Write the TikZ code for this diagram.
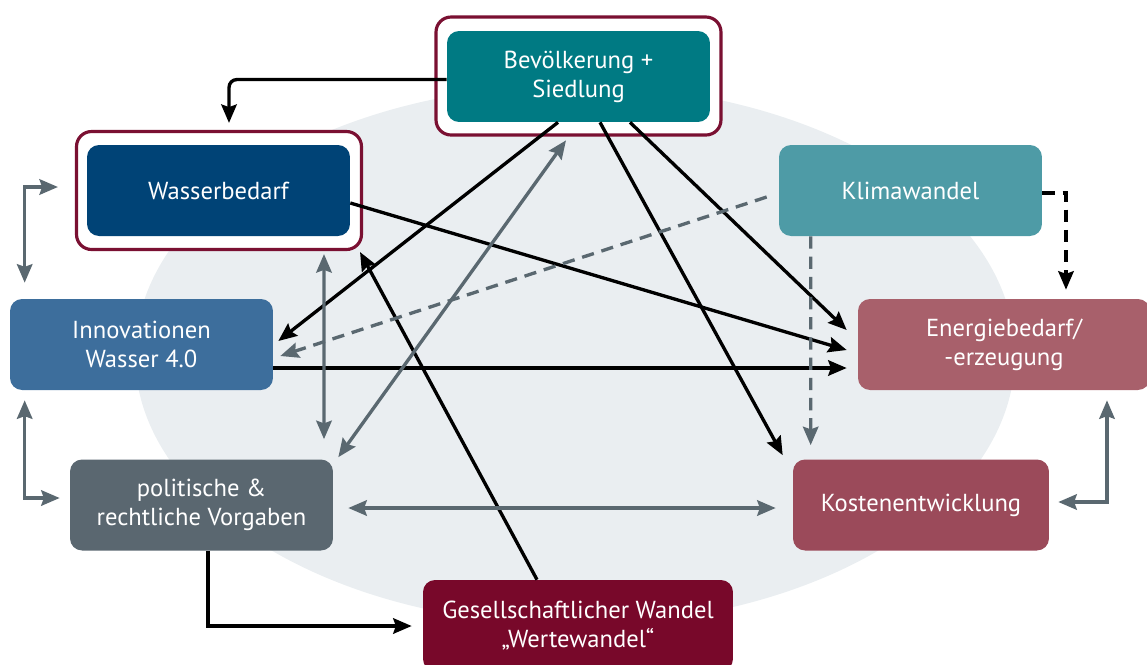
\documentclass[tikz,border=0pt]{standalone}
\usepackage{fontspec}
\setmainfont{PT Sans}
\usetikzlibrary{arrows.meta,calc}
\definecolor{bevcol}{RGB}{0,122,131}
\definecolor{wascol}{RGB}{0,67,118}
\definecolor{klicol}{RGB}{78,155,166}
\definecolor{enecol}{RGB}{168,96,107}
\definecolor{inncol}{RGB}{61,110,156}
\definecolor{polcol}{RGB}{90,103,112}
\definecolor{koscol}{RGB}{155,74,90}
\definecolor{gescol}{RGB}{120,8,42}
\definecolor{ringcol}{RGB}{122,16,50}
\definecolor{linkgray}{RGB}{90,104,112}
\definecolor{bgcol}{RGB}{234,238,241}

\begin{document}
\begin{tikzpicture}[x=0.02cm,y=-0.02cm,
  topic/.style={rounded corners=0.24cm, minimum width=5.26cm, minimum height=1.82cm,
    inner sep=0pt, text=white, align=center, font=\fontsize{14}{16.5}\selectfont},
  ring/.style={draw=ringcol, line width=1.8pt, fill=white, rounded corners=0.3cm,
    minimum width=5.7cm, minimum height=2.36cm},
  tip/.style={-{Stealth[length=10.5pt,width=8.8pt,inset=1.5pt]}},
  tips/.style={{Stealth[length=10.5pt,width=8.8pt,inset=1.5pt]}-{Stealth[length=10.5pt,width=8.8pt,inset=1.5pt]}},
  blk/.style={line width=1.9pt, black},
  gry/.style={line width=1.9pt, linkgray},
  dsh/.style={dash pattern=on 7pt off 4.5pt}]
\useasboundingbox (0,0) rectangle (1147,664);
\fill[bgcol] (575,355) ellipse [x radius=8.8cm, y radius=5.4cm];

\node[ring] (bevring) at (578.5,76) {};
\node[ring] (wasring) at (219,190.5) {};
\node[topic, fill=bevcol] (bev) at (578.5,76.5) {Bevölkerung +\\Siedlung};
\node[topic, fill=wascol] (was) at (218.5,190.5) {Wasserbedarf};
\node[topic, fill=klicol] (kli) at (910.5,190.5) {Klimawandel};
\node[topic, fill=enecol, minimum width=5.84cm] (ene) at (1004,344.5) {Energiebedarf/\\-erzeugung};
\node[topic, fill=inncol] (inn) at (141.5,344.5) {Innovationen\\Wasser 4.0};
\node[topic, fill=polcol] (pol) at (201.5,505) {politische \&\\rechtliche Vorgaben};
\node[topic, fill=koscol, minimum width=5.12cm] (kos) at (921,505) {Kostenentwicklung};
\node[topic, fill=gescol, minimum width=6.2cm] (ges) at (578,625.5) {Gesellschaftlicher Wandel\\„Wertewandel“};

\draw[blk, tip, rounded corners=0.16cm] ($(bev.west)+(0,3)$) -| ($(wasring.north)+(10,-7)$);
\draw[blk, tip] ($(was.east)+(0,12.5)$) -- ($(ene.west)+(-11,5.5)$);
\draw[blk, tip] ($(bev.south)+(51.5,0)$) -- ($(ene.west)+(-11,-14.5)$);
\draw[blk, tip] ($(bev.south)+(21.5,0)$) -- ($(kos.north west)+(-10,-4)$);
\draw[blk, tip] ($(bev.south)+(-20.5,0)$) -- ($(inn.east)+(5,-3.5)$);
\draw[blk, tip] ($(ges.north)+(-41,0)$) -- ($(wasring.south east)+(-3,1)$);
\draw[blk, tip] ($(inn.east)+(0,23.5)$) -- ($(ene.west)+(-11,23.5)$);
\draw[blk, tip] ($(pol.south)+(6.5,0)$) |- ($(ges.west)+(-11,0.5)$);
\draw[blk, tip, dsh] ($(kli.east)+(0,2.5)$) -| ($(ene.north)+(62,-9)$);

\draw[gry, tips] ($(pol.north east)+(5,-2)$) -- ($(bev.south)+(-12.5,18)$);
\draw[gry, tips] ($(wasring.south)+(105,3)$) -- ($(pol.north)+(122.5,-20)$);
\draw[gry, tips] ($(pol.east)+(15,3)$) -- ($(kos.west)+(-17,3)$);
\draw[gry, tips] ($(ene.south)+(103,10)$) |- ($(kos.east)+(9,-3)$);
\draw[gry, tips] ($(inn.south west)+(15,10)$) |- ($(pol.west)+(-10,-7)$);
\draw[gry, tips] ($(inn.north west)+(15,-16)$) |- ($(wasring.west)+(-17,-3.5)$);
\draw[gry, tip, dsh] ($(kli.west)+(-12,6.5)$) -- ($(inn.east)+(7,11.5)$);
\draw[gry, tip, dsh] ($(kli.south west)+(32,0)$) -- ($(kos.north west)+(18,-14)$);
\end{tikzpicture}
\end{document}
